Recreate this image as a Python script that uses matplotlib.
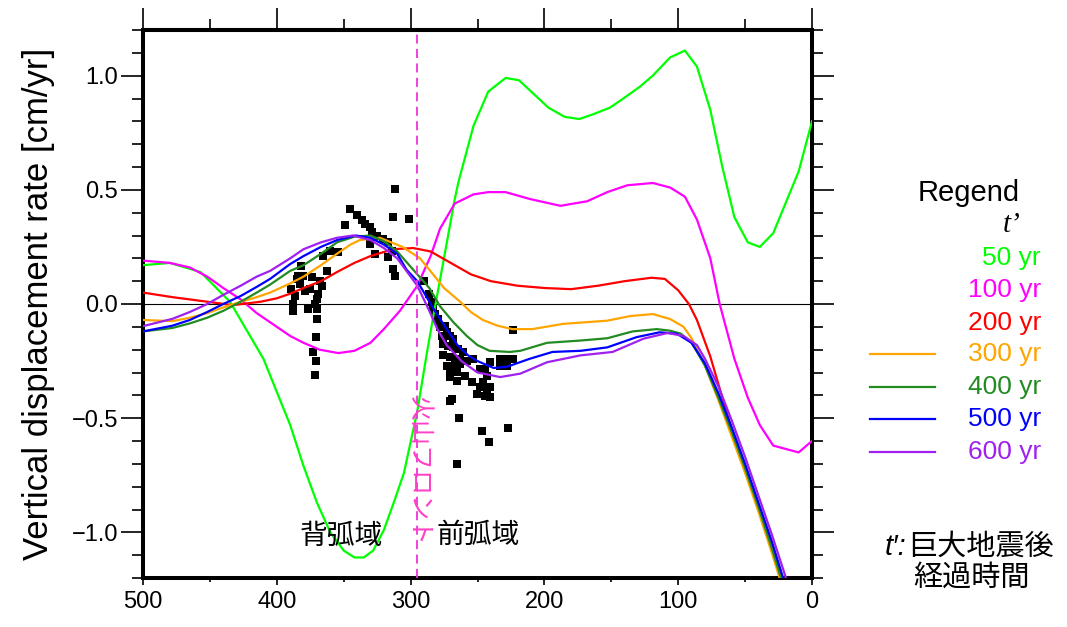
import matplotlib
matplotlib.use("Agg")
import matplotlib.pyplot as plt
from matplotlib.lines import Line2D
from matplotlib.ticker import MultipleLocator

plt.rcParams['font.family'] = ['Liberation Sans', 'Noto Sans CJK JP']

# distance from trench [km] and vertical rate [cm/yr] for each t'
x_50 = [500, 480, 457, 435, 410, 390, 380, 370, 360, 350, 342, 335, 328, 320, 312, 305, 295,
        288, 282, 276, 267, 264, 253, 242, 229, 219, 197, 185, 174, 164, 151, 141, 129, 119,
        106, 95, 86, 76, 67, 58, 48, 39, 29, 10, 0]
v_50 = [0.17, 0.18, 0.14, 0.01, -0.24, -0.53, -0.71, -0.87, -1.00, -1.08, -1.11, -1.11, -1.08,
        -0.99, -0.86, -0.74, -0.47, -0.22, -0.02, 0.17, 0.46, 0.54, 0.78, 0.93, 0.99, 0.98,
        0.86, 0.82, 0.81, 0.83, 0.86, 0.90, 0.95, 1.00, 1.08, 1.11, 1.04, 0.85, 0.60, 0.38,
        0.27, 0.25, 0.31, 0.58, 0.80]

x_100 = [500, 480, 465, 452, 440, 427, 415, 400, 390, 380, 368, 354, 342, 330, 320, 308, 295,
         285, 278, 267, 253, 242, 229, 211, 188, 168, 153, 138, 119, 106, 95, 86, 76, 69, 58,
         48, 39, 29, 10, 0]
v_100 = [0.19, 0.18, 0.16, 0.12, 0.07, 0.02, -0.04, -0.10, -0.14, -0.17, -0.20, -0.215,
         -0.205, -0.17, -0.11, -0.03, 0.08, 0.21, 0.33, 0.44, 0.48, 0.49, 0.49, 0.46, 0.43,
         0.45, 0.49, 0.52, 0.53, 0.51, 0.47, 0.37, 0.20, 0.0, -0.24, -0.41, -0.53, -0.62,
         -0.65, -0.60]

x_200 = [500, 478, 452, 433, 412, 400, 390, 380, 367, 355, 342, 330, 313, 298, 285, 270, 255,
         240, 220, 200, 180, 160, 140, 120, 110, 100, 92, 86, 76, 69, 60, 50, 40, 30, 20]
v_200 = [0.05, 0.03, 0.01, -0.005, 0.01, 0.025, 0.045, 0.07, 0.10, 0.14, 0.18, 0.21, 0.24,
         0.245, 0.23, 0.18, 0.13, 0.10, 0.08, 0.07, 0.065, 0.08, 0.10, 0.115, 0.11, 0.06, 0.0,
         -0.07, -0.23, -0.37, -0.55, -0.72, -0.89, -1.06, -1.25]

x_300 = [500, 478, 465, 452, 440, 427, 415, 405, 390, 380, 367, 355, 345, 338, 323, 306, 293,
         286, 275, 263, 255, 246, 235, 224, 209, 186, 153, 136, 119, 106, 96, 90, 80, 70, 60,
         50, 40, 30, 20]
v_300 = [-0.07, -0.075, -0.06, -0.04, -0.015, 0.01, 0.03, 0.05, 0.09, 0.12, 0.17, 0.22, 0.26,
         0.28, 0.29, 0.25, 0.20, 0.15, 0.07, 0.01, -0.035, -0.07, -0.095, -0.11, -0.11,
         -0.087, -0.073, -0.053, -0.044, -0.066, -0.10, -0.15, -0.27, -0.42, -0.58, -0.74,
         -0.91, -1.09, -1.28]

x_400 = [500, 478, 465, 452, 440, 427, 415, 405, 390, 380, 367, 355, 342, 330, 320, 310, 298,
         286, 278, 268, 258, 250, 241, 226, 218, 198, 173, 153, 134, 116, 106, 98, 90, 80, 70,
         60, 50, 40, 30, 20]
v_400 = [-0.12, -0.105, -0.085, -0.06, -0.03, 0.01, 0.05, 0.085, 0.145, 0.17, 0.22, 0.27,
         0.295, 0.30, 0.275, 0.23, 0.15, 0.07, -0.01, -0.08, -0.14, -0.18, -0.205, -0.21,
         -0.205, -0.17, -0.16, -0.15, -0.12, -0.11, -0.117, -0.13, -0.17, -0.27, -0.41,
         -0.56, -0.72, -0.89, -1.07, -1.26]

x_500 = [500, 478, 465, 452, 440, 427, 415, 405, 390, 380, 367, 355, 341, 330, 320, 310, 303,
         295, 283, 273, 265, 257, 250, 238, 228, 211, 194, 173, 153, 131, 114, 101, 90, 80,
         70, 60, 50, 40, 30, 20]
v_500 = [-0.12, -0.095, -0.07, -0.035, 0.0, 0.035, 0.075, 0.11, 0.175, 0.21, 0.25, 0.28,
         0.30, 0.29, 0.26, 0.22, 0.15, 0.10, -0.02, -0.11, -0.18, -0.225, -0.25, -0.28,
         -0.275, -0.24, -0.21, -0.205, -0.19, -0.145, -0.124, -0.13, -0.17, -0.26, -0.39,
         -0.54, -0.70, -0.87, -1.04, -1.23]

x_600 = [500, 478, 465, 452, 440, 427, 415, 405, 390, 380, 367, 355, 343, 330, 320, 310, 295,
         286, 280, 273, 262, 250, 233, 218, 198, 173, 149, 126, 108, 96, 86, 80, 70, 60, 50,
         40, 30, 20, 15]
v_600 = [-0.097, -0.065, -0.035, 0.0, 0.04, 0.08, 0.12, 0.145, 0.20, 0.24, 0.27, 0.29, 0.30,
         0.28, 0.245, 0.20, 0.08, -0.03, -0.11, -0.18, -0.25, -0.30, -0.32, -0.305, -0.255,
         -0.225, -0.21, -0.152, -0.127, -0.14, -0.18, -0.24, -0.36, -0.51, -0.67, -0.84,
         -1.01, -1.19, -1.28]

# observed rates (black squares)
obs_x = [345.3, 340.1, 349.0, 336.3, 334.1, 330.3, 328.8, 325.1, 320.6, 316.9, 313.2, 301.2,
         311.7, 330.3, 326.6, 316.9, 313.2, 311.7, 313.9, 360.2, 365.5, 354.3, 362.5, 381.9,
         384.2, 380.4, 384.9, 378.9, 386.4, 387.9, 387.9, 367.7, 366.2, 369.2, 369.9, 371.4,
         376.7, 369.9, 369.9, 370.7, 372.9, 370.7, 371.4, 389.4, 382.7, 375.2, 373.7,
         290.0, 286.2, 284.0, 283.3, 281.8, 279.5, 278.0, 274.3, 272.8, 276.5, 270.5, 268.3,
         275.8, 272.0, 268.3, 264.6, 260.8, 275.8, 270.5, 266.8, 263.1, 257.8, 253.4, 272.8,
         268.3, 263.1, 270.5, 265.3, 259.3, 254.1, 270.5, 265.3, 248.1, 244.4, 240.7, 242.9,
         245.9, 248.1, 242.9, 240.7, 250.4, 244.4, 240.7, 233.2, 230.9, 227.9, 225.7, 223.5,
         233.2, 227.9, 223.5, 270.5, 263.8, 246.6, 241.4, 227.2, 265.3, 269.0]
obs_v = [0.415, 0.389, 0.345, 0.367, 0.349, 0.336, 0.314, 0.297, 0.284, 0.271, 0.380, 0.371,
         0.502, 0.262, 0.218, 0.205, 0.153, 0.122, 0.231, 0.231, 0.210, 0.227, 0.144, 0.166,
         0.122, 0.122, 0.109, 0.057, 0.035, 0.0, -0.031, 0.100, 0.079, 0.044, 0.022, 0.0,
         -0.022, -0.022, -0.066, -0.144, -0.210, -0.249, -0.310, 0.066, 0.087, 0.066, 0.118,
         0.100, 0.044, 0.009, -0.022, -0.044, -0.066, -0.100, -0.096, -0.122, -0.140, -0.140,
         -0.153, -0.175, -0.183, -0.188, -0.197, -0.210, -0.223, -0.231, -0.240, -0.240,
         -0.249, -0.240, -0.271, -0.271, -0.262, -0.284, -0.297, -0.314, -0.341, -0.319,
         -0.336, -0.284, -0.284, -0.253, -0.314, -0.341, -0.362, -0.371, -0.362, -0.393,
         -0.402, -0.406, -0.240, -0.249, -0.240, -0.240, -0.240, -0.271, -0.271, -0.114,
         -0.424, -0.498, -0.555, -0.603, -0.542, -0.699, -0.415]

labels = ['50 yr', '100 yr', '200 yr', '300 yr', '400 yr', '500 yr', '600 yr']
colors = ['#00ff00', '#ff00ff', '#ff0000', '#ffa500', '#228b22', '#0000ff', '#a020f0']
series = [(x_50, v_50), (x_100, v_100), (x_200, v_200), (x_300, v_300),
          (x_400, v_400), (x_500, v_500), (x_600, v_600)]
volcanic_front = 295

W, H = 1067, 627
fig = plt.figure(figsize=(W / 100, H / 100), dpi=100)
ax = fig.add_axes([143 / W, 1 - 578 / H, (812 - 143) / W, (578 - 30) / H])

ax.axhline(0, color='black', lw=0.8, zorder=1)
ax.scatter(obs_x, obs_v, marker='s', s=26, color='black', linewidths=0, zorder=2)
for (xs, vs), c in zip(series, colors):
    ax.plot(xs, vs, color=c, lw=1.6, zorder=3)
ax.axvline(volcanic_front, color='#ee33dd', lw=1.3, ls=(0, (5, 3)), zorder=4)

ax.set_xlim(500, 0)
ax.set_ylim(-1.2, 1.2)
ax.xaxis.set_major_locator(MultipleLocator(100))
ax.xaxis.set_minor_locator(MultipleLocator(50))
ax.yaxis.set_major_locator(MultipleLocator(0.5))
ax.yaxis.set_minor_locator(MultipleLocator(0.1))
ax.yaxis.set_major_formatter(lambda v, p: f"{v:.1f}".replace('-', '\u2212'))
ax.tick_params(axis='y', which='major', direction='out', length=16, width=1.2,
               labelsize=17, pad=2, right=True)
ax.tick_params(axis='y', which='minor', direction='out', length=8, width=1.2, right=True)
ax.tick_params(axis='x', which='major', direction='out', length=5, width=1.2,
               labelsize=17, pad=4)
ax.tick_params(axis='x', which='minor', direction='out', length=3, width=1.2)
for sp in ax.spines.values():
    sp.set_linewidth(2.9)

top = ax.secondary_xaxis('top')
top.xaxis.set_major_locator(MultipleLocator(100))
top.xaxis.set_minor_locator(MultipleLocator(50))
top.tick_params(which='major', direction='out', length=16, width=1.2, labeltop=False)
top.tick_params(which='minor', direction='out', length=8, width=1.2)
top.spines['top'].set_linewidth(2.9)

ax.set_ylabel('Vertical displacement rate [cm/yr]', fontsize=25, labelpad=12)

# region labels and the volcanic front
fig.text(341 / W, 1 - 537 / H, '背弧域', fontsize=20, ha='center', va='center')
fig.text(478 / W, 1 - 536 / H, '前弧域', fontsize=20, ha='center', va='center')
fig.text(419 / W, 1 - 471 / H, '火山フロント', fontsize=18, color='#ff3fc8',
         rotation=-90, ha='center', va='center')

# legend drawn by hand
fig.text(969 / W, 1 - 193 / H, 'Regend', fontsize=21, ha='center', va='center')
fig.text(1012 / W, 1 - 225 / H, 't\u2019', fontsize=21, ha='center', va='center',
         family='Liberation Serif', style='italic')
label_y = [258, 290, 323, 354, 387, 419, 452]
for lab, c, py in zip(labels, colors, label_y):
    fig.text(1041 / W, 1 - py / H, lab, fontsize=19, color=c, ha='right', va='center')
    if lab in ('300 yr', '400 yr', '500 yr', '600 yr'):
        fig.add_artist(Line2D([870 / W, 935 / W], [1 - py / H, 1 - py / H], color=c,
                              lw=1.6, transform=fig.transFigure))

fig.text(906 / W, 1 - 547 / H, 't\u2032:', fontsize=21, ha='right', va='center',
         style='italic', family='Liberation Sans')
fig.text(908 / W, 1 - 547 / H, '巨大地震後', fontsize=21, ha='left', va='center')
fig.text(971 / W, 1 - 578 / H, '経過時間', fontsize=21, ha='center', va='center')

fig.savefig('out.png', dpi=100)
